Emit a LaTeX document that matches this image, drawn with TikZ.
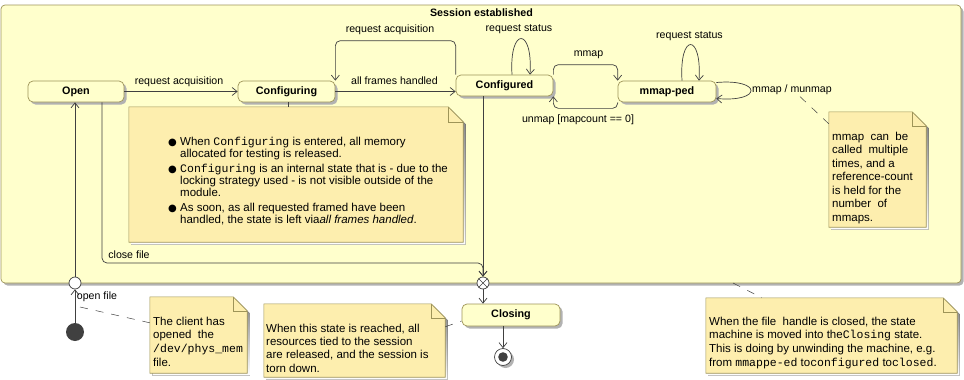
\documentclass[tikz,border=0pt]{standalone}
\usepackage{fontspec}
\setmainfont{Liberation Sans}
\setmonofont{Liberation Mono}
\newfontfamily\symfont{DejaVu Sans}
\usetikzlibrary{arrows.meta,shadows,calc}

\pgfdeclarelayer{regionlayer}
\pgfdeclarelayer{paperlayer}
\pgfsetlayers{regionlayer,paperlayer,main}

\definecolor{regionfill}{RGB}{255,255,204}
\definecolor{statefill}{RGB}{255,255,204}
\definecolor{notefill}{RGB}{253,238,174}
\definecolor{edge}{RGB}{158,148,88}
\definecolor{wire}{RGB}{64,64,64}
\definecolor{shade}{RGB}{178,178,178}
\definecolor{initfill}{RGB}{64,64,64}

\tikzset{
  softshadow/.style={drop shadow={shadow xshift=2.5pt, shadow yshift=-2.5pt, fill=shade, opacity=1}},
  region/.style={draw=edge, fill=regionfill, rounded corners=4pt, line width=0.7pt, inner sep=0pt, softshadow},
  state/.style={draw=edge, fill=statefill, rounded corners=5pt, line width=0.7pt, inner sep=0pt,
    minimum height=21pt, font=\fontsize{10.8}{13}\selectfont\bfseries, softshadow},
  trans/.style={draw=wire, line width=0.7pt, -{Straight Barb[length=5pt,width=8pt]}, rounded corners=5pt},
  lbl/.style={inner sep=0pt, font=\fontsize{10.6}{12.7}\selectfont},
  paper/.style={inner sep=0pt},
  notetext/.style={inner sep=0pt, anchor=base west},
  link/.style={draw=wire, line width=0.5pt, dash pattern=on 8pt off 8pt},
  pin/.style={draw=wire, line width=0.5pt}
}

% Folded-corner sheet behind a note node; #1 = fold size, #2 = node name
\newcommand\notesheet[2][14pt]{%
  \begin{pgfonlayer}{paperlayer}
    \fill[shade] ([shift={(2.5pt,-2.5pt)}]#2.south west) -- ([shift={(2.5pt,-2.5pt)}]#2.north west)
      -- ([shift={(2.5pt,-2.5pt)}]$(#2.north east)+(-#1,0)$) -- ([shift={(2.5pt,-2.5pt)}]$(#2.north east)+(0,-#1)$)
      -- ([shift={(2.5pt,-2.5pt)}]#2.south east) -- cycle;
    \filldraw[fill=notefill, draw=edge, line width=0.6pt] (#2.south west) -- (#2.north west)
      -- ([xshift=-#1]#2.north east) -- ([yshift=-#1]#2.north east) -- (#2.south east) -- cycle;
    \draw[edge, line width=0.6pt] ([xshift=-#1]#2.north east) -- ([xshift=-#1,yshift=-#1]#2.north east)
      -- ([yshift=-#1]#2.north east);
  \end{pgfonlayer}}

\newcommand\bul{\makebox[12pt][l]{\symfont\fontsize{10}{10}\selectfont ●}}
% top-aligned block of lines, so that the node's base is the first line
\newcommand\linesblock[1]{\begin{tabular}[t]{@{}l@{}}#1\end{tabular}}

\begin{document}
\begin{tikzpicture}[x=1pt, y=-1pt]
  \useasboundingbox (0,0) rectangle (964,380);

  % composite state
  \begin{pgfonlayer}{regionlayer}
    \node[region, minimum width=960pt, minimum height=278pt] (session) at (481,144) {};
  \end{pgfonlayer}
  \node[inner sep=0pt, font=\fontsize{10.7}{13}\selectfont\bfseries] (title) at (481.5,13) {Session established};

  % states
  \node[state, minimum width=96pt] (open) at (76,91.5) {Open};
  \node[state, minimum width=97pt] (configuring) at (286.5,91.5) {Configuring};
  \node[state, minimum width=97pt] (configured) at (504.5,85.5) {Configured};
  \node[state, minimum width=98pt] (mmapped) at (667,91.5) {mmap-ped};
  \node[state, minimum width=98pt, minimum height=22pt] (closing) at (511,315) {Closing};

  % pseudo states
  \node[circle, fill=initfill, minimum size=18pt, inner sep=0pt] (init) at (75,332) {};
  \node[circle, draw=wire, fill=white, line width=0.7pt, minimum size=12pt, inner sep=0pt] (entry) at (75,283) {};
  \node[circle, draw=wire, fill=white, line width=0.7pt, minimum size=12pt, inner sep=0pt] (exitpt) at (483,283) {};
  \draw[wire, line width=0.6pt] (exitpt.45) -- (exitpt.225) (exitpt.135) -- (exitpt.315);
  \node[circle, draw=wire, fill=white, line width=0.7pt, minimum size=17pt, inner sep=0pt, softshadow] (final) at (503,357) {};
  \fill[wire] (final.center) circle (4.8pt);

  % transitions
  \draw[trans] (open) -- (configuring);
  \draw[trans] (configuring) -- (configuring -| configured.west);
  \draw[trans] (configured.north west) -- ++(0,-34) -| (configuring.north east);
  \draw[trans] ([xshift=7.5pt]configured.north) .. controls +(-3,-48) and +(3,-48) .. ([xshift=25.5pt]configured.north);
  \draw[trans] (configured.north east) -- ++(0,-10) -| (mmapped.north west);
  \draw[trans] (mmapped.south west) -- ++(0,6) -| (configured.south east);
  \draw[trans] ([xshift=15pt]mmapped.north) .. controls +(-3,-48) and +(3,-48) .. ([xshift=32pt]mmapped.north);
  \draw[trans] ([yshift=9pt]mmapped.east) .. controls +(46,-4) and +(46,4) .. ([yshift=-7pt]mmapped.east);

  \coordinate (closebend) at (483,263);
  \draw[trans] ([xshift=26pt]open.south) |- (closebend) -- (exitpt);
  \draw[trans] (configured.south -| exitpt) -- (exitpt);
  \draw[trans] (exitpt) -- (closing.north -| exitpt);
  \draw[trans] (closing.south -| final) -- (final);
  \draw[trans] (init) -- (entry);
  \draw[trans] (entry) -- (open.south -| entry);

  % transition labels
  \node[lbl] (l1) at (179,81.5) {request acquisition};
  \node[lbl] (l2) at (394.5,81) {all frames handled};
  \node[lbl] (l3) at (390,30) {request acquisition};
  \node[lbl] (l4) at (519,29.5) {request status};
  \node[lbl] (l5) at (588.5,55) {mmap};
  \node[lbl] (l6) at (578,120) {unmap [mapcount == 0]};
  \node[lbl] (l7) at (689.5,36) {request status};
  \node[lbl] (l8) at (792,89.5) {mmap / munmap};
  \node[lbl] (l9) at (129,255) {close file};
  \node[lbl] (l10) at (97,297) {open file};

  % notes
  \node[paper, minimum width=334pt, minimum height=135pt] (n1) at (296,174.5) {};
  \notesheet[15pt]{n1}
  \node[notetext, font=\fontsize{11.5}{12}\selectfont] (n1t) at (168,145) {%
    \begin{tabular}[t]{@{}l@{}l@{}}
      \bul & When \texttt{Configuring} is entered, all memory\\
           & allocated for testing is released.\\[3pt]
      \bul & \texttt{Configuring} is an internal state that is - due to the\\
           & locking strategy used - is not visible outside of the\\
           & module.\\[3pt]
      \bul & As soon, as all requested framed have been\\
           & handled, the state is left via\textit{all frames handled}.
    \end{tabular}};
  \draw[pin] ([xshift=1.5pt]configuring.south) -- ([xshift=1.5pt]configuring.south |- n1.north);

  \node[paper, minimum width=97pt, minimum height=115pt] (n2) at (877.5,169.5) {};
  \notesheet{n2}
  \node[notetext, font=\fontsize{11.5}{13.5}\selectfont] (n2t) at (832,140) {%
    \linesblock{mmap~ can~ be\\ called~ multiple\\ times, and a\\ reference-count\\ is held for the\\ number~ of\\ mmaps.}};
  \draw[link] ([xshift=8pt,yshift=-2pt]l8.south) -- ([yshift=-12pt]n2.north west);

  \node[paper, minimum width=97pt, minimum height=76pt] (n3) at (198.5,335) {};
  \notesheet{n3}
  \node[notetext, font=\fontsize{11.5}{13.8}\selectfont] (n3t) at (153,325) {%
    \linesblock{The client has\\ opened~ the\\ \texttt{/dev/phys\_mem}\\ file.}};
  \draw[link] ([xshift=5pt,yshift=-24pt]entry.center) -- ([yshift=-26pt]n3.north west);

  \node[paper, minimum width=181pt, minimum height=73pt] (n4) at (354.5,340.5) {};
  \notesheet{n4}
  \node[notetext, font=\fontsize{11.5}{13.4}\selectfont] (n4t) at (266,332) {%
    \linesblock{When this state is reached, all\\ resources tied to the session\\ are released, and the session is\\ torn down.}};
  \draw[link] ([yshift=-23pt]n4.north east) -- ([yshift=-6pt]closing.west);

  \node[paper, minimum width=251pt, minimum height=75pt] (n5) at (831.5,335.5) {};
  \notesheet{n5}
  \node[notetext, font=\fontsize{11.5}{13.7}\selectfont] (n5t) at (709,325) {%
    \linesblock{When the file~ handle is closed, the state\\
    machine is moved into the\texttt{Closing} state.\\
    This is doing by unwinding the machine, e.g.\\
    from \texttt{mmappe-ed} to\texttt{configured} to\texttt{closed}.}};
  \coordinate (framefoot) at (733,283);
  \draw[link] (framefoot) -- ([xshift=56pt]n5.north west);
\end{tikzpicture}
\end{document}
